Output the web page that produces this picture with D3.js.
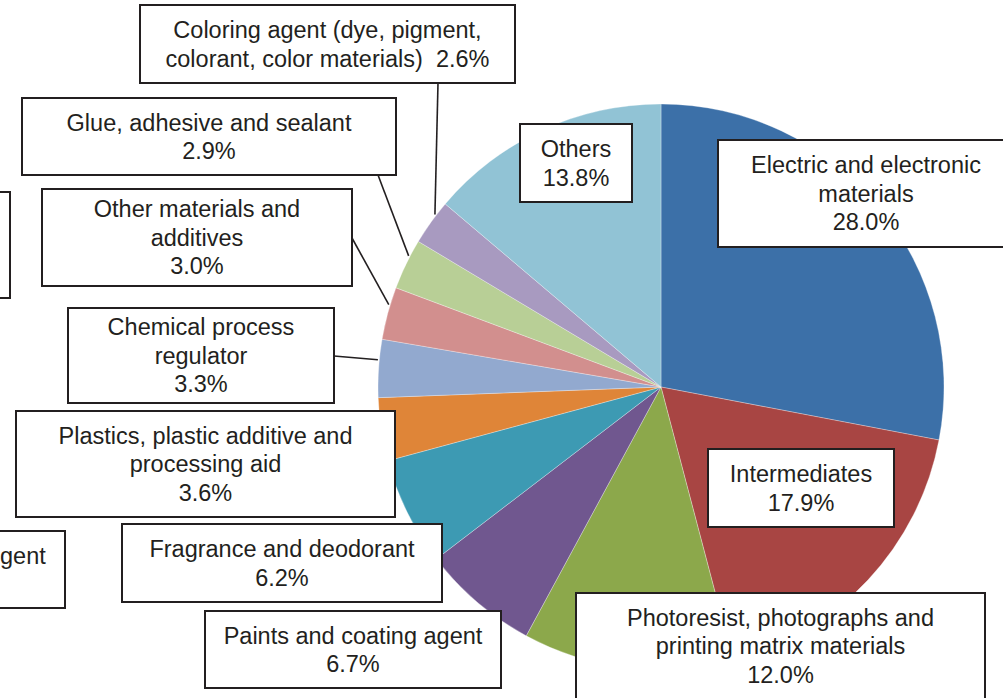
<!DOCTYPE html>
<html>
<head>
<meta charset="utf-8">
<script src="https://cdn.jsdelivr.net/npm/d3@7"></script>
<style>
html,body{margin:0;padding:0;background:#fff;overflow:hidden;}
svg{display:block;}
text{font-family:"Liberation Sans",Arial,sans-serif;fill:#231F20;}
</style>
</head>
<body>
<svg id="chart" width="1003" height="698"></svg>
<script>
// ---- data ----
const categories = [
  "Electric and electronic materials",
  "Intermediates",
  "Photoresist, photographs and printing matrix materials",
  "Paints and coating agent",
  "Fragrance and deodorant",
  "Plastics, plastic additive and processing aid",
  "Chemical process regulator",
  "Other materials and additives",
  "Glue, adhesive and sealant",
  "Coloring agent (dye, pigment, colorant, color materials)",
  "Others"
];
const values = [28.0, 17.9, 12.0, 6.7, 6.2, 3.6, 3.3, 3.0, 2.9, 2.6, 13.8];
const labelLines = [
  ["Electric and electronic", "materials", "28.0%"],
  ["Intermediates", "17.9%"],
  ["Photoresist, photographs and", "printing matrix materials", "12.0%"],
  ["Paints and coating agent", "6.7%"],
  ["Fragrance and deodorant", "6.2%"],
  ["Plastics, plastic additive and", "processing aid", "3.6%"],
  ["Chemical process", "regulator", "3.3%"],
  ["Other materials and", "additives", "3.0%"],
  ["Glue, adhesive and sealant", "2.9%"],
  ["Coloring agent (dye, pigment,", "colorant, color materials)\u00a0 2.6%"],
  ["Others", "13.8%"]
];

// ---- styles / layout ----
const colors = ["#3C70A8", "#A84543", "#8CA84B", "#70578F", "#3D9AB3", "#DF8538",
                "#92A9CF", "#D28F8E", "#B8CF96", "#A89AC0", "#91C3D5"];
const cx = 661, cy = 387, radius = 283;
const boxes = [
  {x: 718, y: 140, w: 296, h: 107},
  {x: 708, y: 449, w: 186, h: 78},
  {x: 576, y: 593, w: 409, h: 120, mid: 646},
  {x: 205, y: 611, w: 296, h: 77},
  {x: 122, y: 524, w: 320, h: 78},
  {x: 16,  y: 411, w: 379, h: 106},
  {x: 68,  y: 308, w: 266, h: 95,  leader: {x: 334, y: 356}},
  {x: 42,  y: 189, w: 310, h: 97,  leader: {x: 352, y: 238}},
  {x: 22,  y: 98,  w: 374, h: 77,  leader: {x: 378, y: 175}},
  {x: 140, y: 5,   w: 375, h: 78,  leader: {x: 438, y: 83}},
  {x: 520, y: 124, w: 112, h: 78}
];
const fontSize = 23.5, lineH = 28.5;

const svg = d3.select("#chart");
const pie = d3.pie().sort(null).value(d => d)(values);
const arc = d3.arc().innerRadius(0).outerRadius(radius);

const g = svg.append("g").attr("transform", `translate(${cx},${cy})`);
g.selectAll("path.slice").data(pie).enter().append("path")
  .attr("class", "slice")
  .attr("d", arc)
  .attr("fill", (d, i) => colors[i])
  .attr("stroke", "#ffffff")
  .attr("stroke-width", 0.6)
  .attr("stroke-opacity", 0.5);

// cut-off boxes at left edge (from a neighbouring chart)
svg.append("rect").attr("x", -200).attr("y", 192).attr("width", 210).attr("height", 106)
  .attr("fill", "#fff").attr("stroke", "#231F20").attr("stroke-width", 2);
svg.append("rect").attr("x", -200).attr("y", 531).attr("width", 265).attr("height", 77)
  .attr("fill", "#fff").attr("stroke", "#231F20").attr("stroke-width", 2);
svg.append("text").attr("x", 0).attr("y", 564).attr("text-anchor", "start")
  .attr("font-size", fontSize).text("gent");

// leader lines
pie.forEach((d, i) => {
  const b = boxes[i];
  if (!b.leader) return;
  const a = (d.startAngle + d.endAngle) / 2 + 0.03;
  const ex = cx + radius * 1.005 * Math.sin(a);
  const ey = cy - radius * 1.005 * Math.cos(a);
  svg.append("line").attr("x1", b.leader.x).attr("y1", b.leader.y)
    .attr("x2", ex).attr("y2", ey)
    .attr("stroke", "#231F20").attr("stroke-width", 1.6);
});

// label boxes
const lab = svg.selectAll("g.label").data(pie).enter().append("g").attr("class", "label");
lab.append("rect")
  .attr("x", (d, i) => boxes[i].x).attr("y", (d, i) => boxes[i].y)
  .attr("width", (d, i) => boxes[i].w).attr("height", (d, i) => boxes[i].h)
  .attr("fill", "#fff").attr("stroke", "#231F20").attr("stroke-width", 2);
lab.each(function(d, i) {
  const b = boxes[i];
  const lines = labelLines[i];
  const mx = b.x + b.w / 2;
  const my = b.mid !== undefined ? b.mid : b.y + b.h / 2;
  const t = d3.select(this).append("text").attr("text-anchor", "middle")
    .attr("font-size", fontSize);
  lines.forEach((ln, k) => {
    t.append("tspan").attr("x", mx)
      .attr("y", my + (k - (lines.length - 1) / 2) * lineH)
      .attr("dy", "0.36em").text(ln);
  });
});
</script>
</body>
</html>
